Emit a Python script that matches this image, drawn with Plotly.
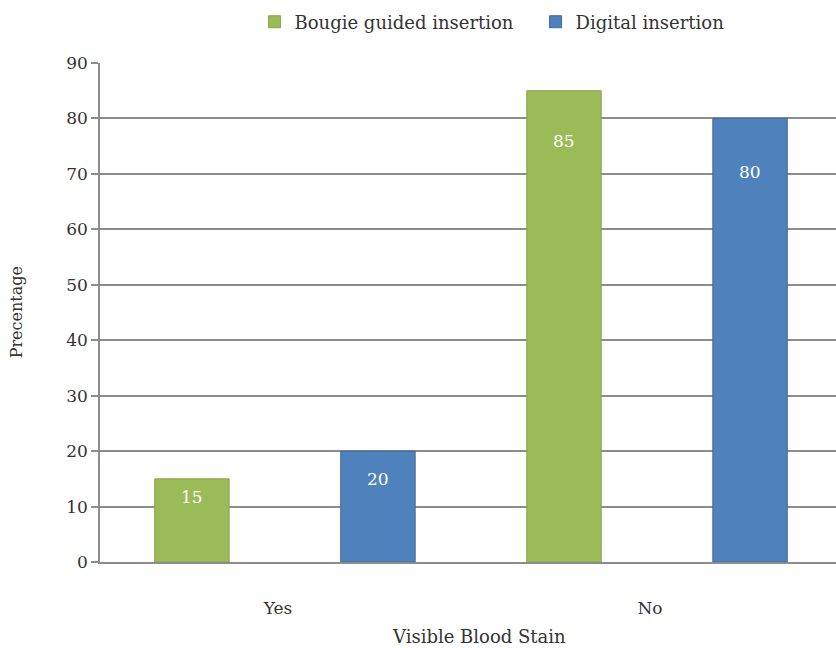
import plotly.graph_objects as go

categories = ["Yes", "No"]
bougie = [15, 85]
digital = [20, 80]
series_names = ["Bougie guided insertion", "Digital insertion"]
y_ticks = [0, 10, 20, 30, 40, 50, 60, 70, 80, 90]

FONT = "DejaVu Serif"
GREEN = "#9BBB59"
BLUE = "#4F81BD"
TXT = "#333333"

fig = go.Figure()
fig.add_trace(go.Bar(
    x=categories, y=bougie, name=series_names[0],
    marker=dict(color=GREEN, line=dict(color="#86A64A", width=1)),
    offset=-0.35, width=0.2,
))
fig.add_trace(go.Bar(
    x=categories, y=digital, name=series_names[1],
    marker=dict(color=BLUE, line=dict(color="#41699A", width=1)),
    offset=0.15, width=0.2,
))

# data labels, placed inside the bars near the top (Excel style)
label_shift_g = [-18, -50]
label_shift_b = [-28, -54]
annotations = []
for i, v in enumerate(bougie):
    annotations.append(dict(x=i - 0.25, y=v, xref="x", yref="y", text=str(v),
                            showarrow=False, yshift=label_shift_g[i], yanchor="middle",
                            font=dict(color="white", size=17, family=FONT)))
for i, v in enumerate(digital):
    annotations.append(dict(x=i + 0.25, y=v, xref="x", yref="y", text=str(v),
                            showarrow=False, yshift=label_shift_b[i], yanchor="middle",
                            font=dict(color="white", size=17, family=FONT)))
annotations.append(dict(
    text="Visible Blood Stain", xref="paper", yref="paper",
    x=0.515, y=-0.15, xanchor="center", yanchor="middle", showarrow=False,
    font=dict(size=18, family=FONT, color=TXT),
))
annotations.append(dict(
    text="Precentage", xref="paper", yref="paper", textangle=-90,
    x=-0.113, y=0.5, xanchor="center", yanchor="middle", showarrow=False,
    font=dict(size=16, family=FONT, color=TXT),
))

fig.update_layout(
    width=836, height=648,
    margin=dict(l=100, r=0, t=63, b=86),
    paper_bgcolor="white", plot_bgcolor="white",
    font=dict(family=FONT, color=TXT, size=17),
    barmode="overlay",
    showlegend=True,
    legend=dict(orientation="h", x=0.21, xanchor="left", y=0.966, yanchor="middle",
                yref="container",
                font=dict(size=18, family=FONT, color=TXT),
                itemwidth=30, entrywidth=236, traceorder="normal"),
    xaxis=dict(
        type="category", range=[-0.497, 1.481],
        showgrid=False, showline=True, linecolor="#8c8c8c", linewidth=1.5,
        ticks="", ticklabelstandoff=30, ticklabelshift=-7,
        tickfont=dict(size=17, family=FONT, color=TXT),
    ),
    yaxis=dict(
        range=[0, 90], tickvals=y_ticks,
        showgrid=True, gridcolor="#8c8c8c", gridwidth=1.5,
        showline=True, linecolor="#8c8c8c", linewidth=1.5,
        ticks="outside", ticklen=7, tickcolor="#8c8c8c", tickwidth=1.5,
        tickfont=dict(size=17, family=FONT, color=TXT),
        zeroline=False,
    ),
    annotations=annotations,
)

fig.write_html("out.html")
